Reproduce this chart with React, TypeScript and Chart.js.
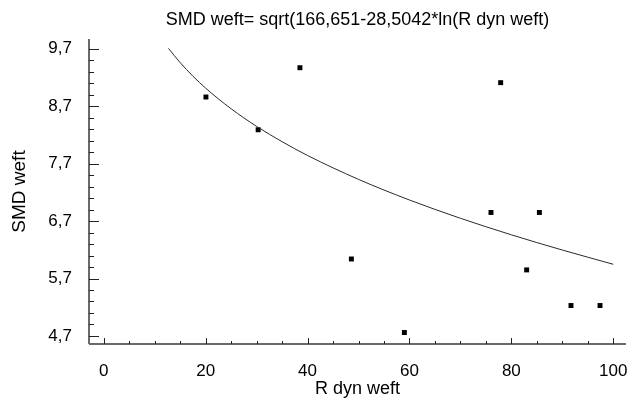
import React, { useEffect, useRef } from "react";
import { Chart, registerables } from "chart.js";

Chart.register(...registerables);

const titleText = "SMD weft= sqrt(166,651-28,5042*ln(R dyn weft)";
const xAxisTitle = "R dyn weft";
const yAxisTitle = "SMD weft";

// observed points
const rDynWeft = [20.05, 30.3, 38.5, 48.6, 59.0, 76.0, 77.9, 83.0, 85.5, 91.7, 97.4];
const smdWeft = [8.86, 8.29, 9.37, 6.04, 4.76, 6.85, 9.11, 5.85, 6.85, 5.23, 5.23];

// fitted curve
const fitX = [12.7, 15, 17.5, 20, 25, 30, 35, 40, 50, 60, 70, 80, 90, 100];
const fitY = [9.706, 9.458, 9.223, 9.014, 8.655, 8.349, 8.082, 7.842, 7.426, 7.067, 6.749, 6.461, 6.196, 5.948];

const xTicks = [0, 20, 40, 60, 80, 100];
const yTicks = [4.7, 5.7, 6.7, 7.7, 8.7, 9.7];
const xMinorStep = 5;
const yMinorStep = 0.2;

const FONT = "'Liberation Sans', Arial, sans-serif";

const axisPlugin = {
  id: "inwardAxes",
  afterDatasetsDraw(chart: any) {
    const { ctx, chartArea, scales } = chart;
    const xs = scales.x;
    const ys = scales.y;
    ctx.save();
    // axis lines
    ctx.strokeStyle = "#6a6a6a";
    ctx.lineWidth = 2;
    ctx.beginPath();
    ctx.moveTo(chartArea.left, chartArea.bottom);
    ctx.lineTo(chartArea.right, chartArea.bottom);
    ctx.moveTo(chartArea.left, chartArea.top);
    ctx.lineTo(chartArea.left, chartArea.bottom);
    ctx.stroke();
    // ticks
    ctx.strokeStyle = "#222";
    ctx.lineWidth = 1;
    ctx.beginPath();
    const yStart = yTicks[0];
    for (let i = -20; i <= 60; i++) {
      const v = yStart + i * yMinorStep;
      if (v < ys.min - 1e-9 || v > ys.max + 1e-9) continue;
      const isMajor = Math.abs(i % 5) === 0;
      const py = Math.round(ys.getPixelForValue(v)) + 0.5;
      ctx.moveTo(chartArea.left, py);
      ctx.lineTo(chartArea.left + (isMajor ? 10 : 5), py);
    }
    const xStart = xTicks[0];
    for (let i = -5; i <= 40; i++) {
      const v = xStart + i * xMinorStep;
      if (v < xs.min - 1e-9 || v > xs.max + 1e-9) continue;
      const isMajor = Math.abs(i % 4) === 0;
      const px = Math.round(xs.getPixelForValue(v)) + 0.5;
      ctx.moveTo(px, chartArea.bottom);
      ctx.lineTo(px, chartArea.bottom - (isMajor ? 6 : 3));
    }
    ctx.stroke();
    ctx.restore();
  },
};

export default function App() {
  const ref = useRef<HTMLCanvasElement | null>(null);
  useEffect(() => {
    document.body.style.margin = "0";
    if (!ref.current) return;
    Chart.defaults.font.family = FONT;
    Chart.defaults.color = "#000";
    const chart = new Chart(ref.current, {
      type: "scatter",
      data: {
        datasets: [
          {
            label: "fit",
            data: fitX.map((x, i) => ({ x, y: fitY[i] })),
            showLine: true,
            borderColor: "#2a2a2a",
            borderWidth: 1,
            pointRadius: 0,
            cubicInterpolationMode: "monotone",
            fill: false,
          } as any,
          {
            label: "data",
            data: rDynWeft.map((x, i) => ({ x, y: smdWeft[i] })),
            pointStyle: "rect",
            pointRadius: 3.5,
            pointBorderWidth: 0,
            backgroundColor: "#000",
            borderColor: "#000",
          } as any,
        ],
      },
      plugins: [axisPlugin],
      options: {
        animation: false,
        responsive: false,
        devicePixelRatio: 1,
        layout: { padding: { left: 0, right: 1, top: 0, bottom: 0 } },
        plugins: {
          legend: { display: false },
          tooltip: { enabled: false },
          title: {
            display: true,
            fullSize: false,
            text: titleText,
            color: "#000",
            font: { size: 18, weight: "normal", family: FONT },
            padding: { top: 9, bottom: 8.4 },
          },
        },
        scales: {
          x: {
            type: "linear",
            min: -2.9,
            max: 102.5,
            grid: { display: false },
            border: { display: false },
            afterBuildTicks: (s: any) => {
              s.ticks = xTicks.map((v) => ({ value: v }));
            },
            afterFit: (s: any) => {
              s.height = 56;
              s.paddingLeft = 0;
              s.paddingRight = 0;
            },
            ticks: {
              padding: 9,
              maxRotation: 0,
              autoSkip: false,
              color: "#000",
              font: { size: 17, family: FONT },
              callback: (v: any) => String(v),
            },
            title: {
              display: true,
              text: xAxisTitle,
              color: "#000",
              font: { size: 18, family: FONT },
              padding: { top: 0, bottom: 0 },
            },
          },
          y: {
            type: "linear",
            min: 4.56,
            max: 9.87,
            grid: { display: false },
            border: { display: false },
            afterBuildTicks: (s: any) => {
              s.ticks = yTicks.map((v) => ({ value: v }));
            },
            afterFit: (s: any) => {
              s.width = 89;
              s.paddingTop = 0;
              s.paddingBottom = 0;
            },
            ticks: {
              padding: 9,
              autoSkip: false,
              color: "#000",
              font: { size: 17, family: FONT },
              callback: (v: any) => String(v).replace(".", ","),
            },
            title: {
              display: true,
              text: yAxisTitle,
              color: "#000",
              font: { size: 19, family: FONT },
              padding: { top: 8.6, bottom: 0 },
            },
          },
        },
      } as any,
    });
    return () => chart.destroy();
  }, []);
  return (
    <div style={{ position: "absolute", left: 0, top: 0, width: 630, height: 400, background: "#fff" }}>
      <canvas ref={ref} width={630} height={400} style={{ width: 630, height: 400 }} />
    </div>
  );
}
